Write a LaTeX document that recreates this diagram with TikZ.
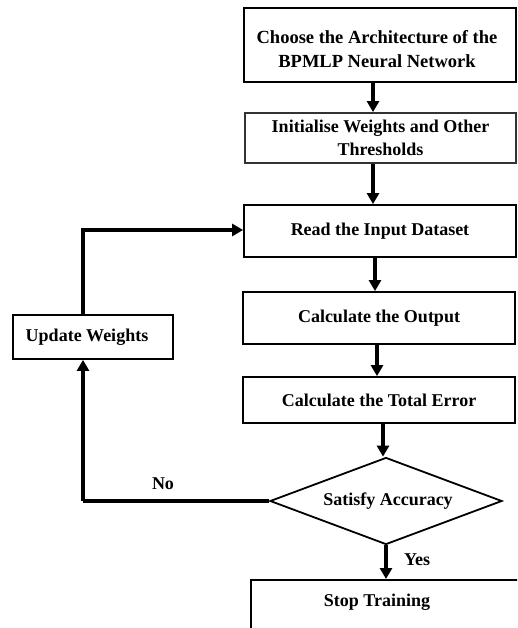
\documentclass[tikz,border=0pt]{standalone}
\usepackage{fontspec}
\setmainfont{Liberation Serif}
\usetikzlibrary{shapes.geometric,arrows.meta}
\begin{document}
\begin{tikzpicture}[x=1pt,y=-1pt,
  every node/.style={font=\bfseries\fontsize{18}{23}\selectfont},
  procbox/.style={draw,line width=1.8pt,rectangle,inner sep=0pt,align=center},
  decision/.style={draw,line width=1.8pt,diamond,inner sep=0pt,aspect=2.67},
  flow/.style={line width=3.6pt,-{Triangle[length=11pt,width=12pt]}},
  loopline/.style={line width=3.6pt}]
\useasboundingbox (0,0) rectangle (517,628);
\begin{scope}
\clip (0,0) rectangle (517,628);
\node[procbox,minimum width=272,minimum height=74] (arch) at (380,45) {};
\node[align=center,font=\bfseries\fontsize{18.5}{24}\selectfont] (archtext) at (377,49)
  {Choose the Architecture of the\\BPMLP Neural Network};
\node[procbox,minimum width=271,minimum height=50,draw=black!80] (init) at (380.5,138)
  {Initialise Weights and Other\\Thresholds};
\node[procbox,minimum width=272,minimum height=52] (read) at (380,231)
  {Read the Input Dataset};
\node[procbox,minimum width=272,minimum height=52] (out) at (379,318)
  {Calculate the Output};
\node[procbox,minimum width=272,minimum height=46] (err) at (379,400)
  {Calculate the Total Error};
\node[decision,minimum width=232,minimum height=87] (acc) at (386,501)
  {\hspace{4pt}Satisfy Accuracy};
\node[procbox,minimum width=290,minimum height=90,anchor=north west] (stop) at (250,579) {};
\node at (377,602) {Stop Training};
\node[procbox,minimum width=160,minimum height=44] (upd) at (93,337)
  {Update Weights\hspace{12pt}};
\end{scope}
% main downward flow
\draw[flow] (arch.south -| 373,0) -- (init.north -| 373,0);
\draw[flow] (init.south -| 373,0) -- (read.north -| 373,0);
\draw[flow] (read.south -| 375,0) -- (out.north -| 375,0);
\draw[flow] (out.south -| 377,0) -- (err.north -| 377,0);
\draw[flow] (err.south -| 383,0) -- (acc.north -| 383,0);
\draw[flow] (acc.south) -- (stop.north -| acc.south);
% feedback loop
\coordinate (nocorner) at (83,501);
\coordinate (upcorner) at (83,230);
\draw[loopline] (acc.west) -- (nocorner);
\draw[flow] (nocorner) -- (upd.south -| nocorner);
\draw[flow] (upd.north -| upcorner) -- (upcorner) -- (read.west |- upcorner);
\node at (163,484) {No};
\node at (417,560) {Yes};
\end{tikzpicture}
\end{document}
